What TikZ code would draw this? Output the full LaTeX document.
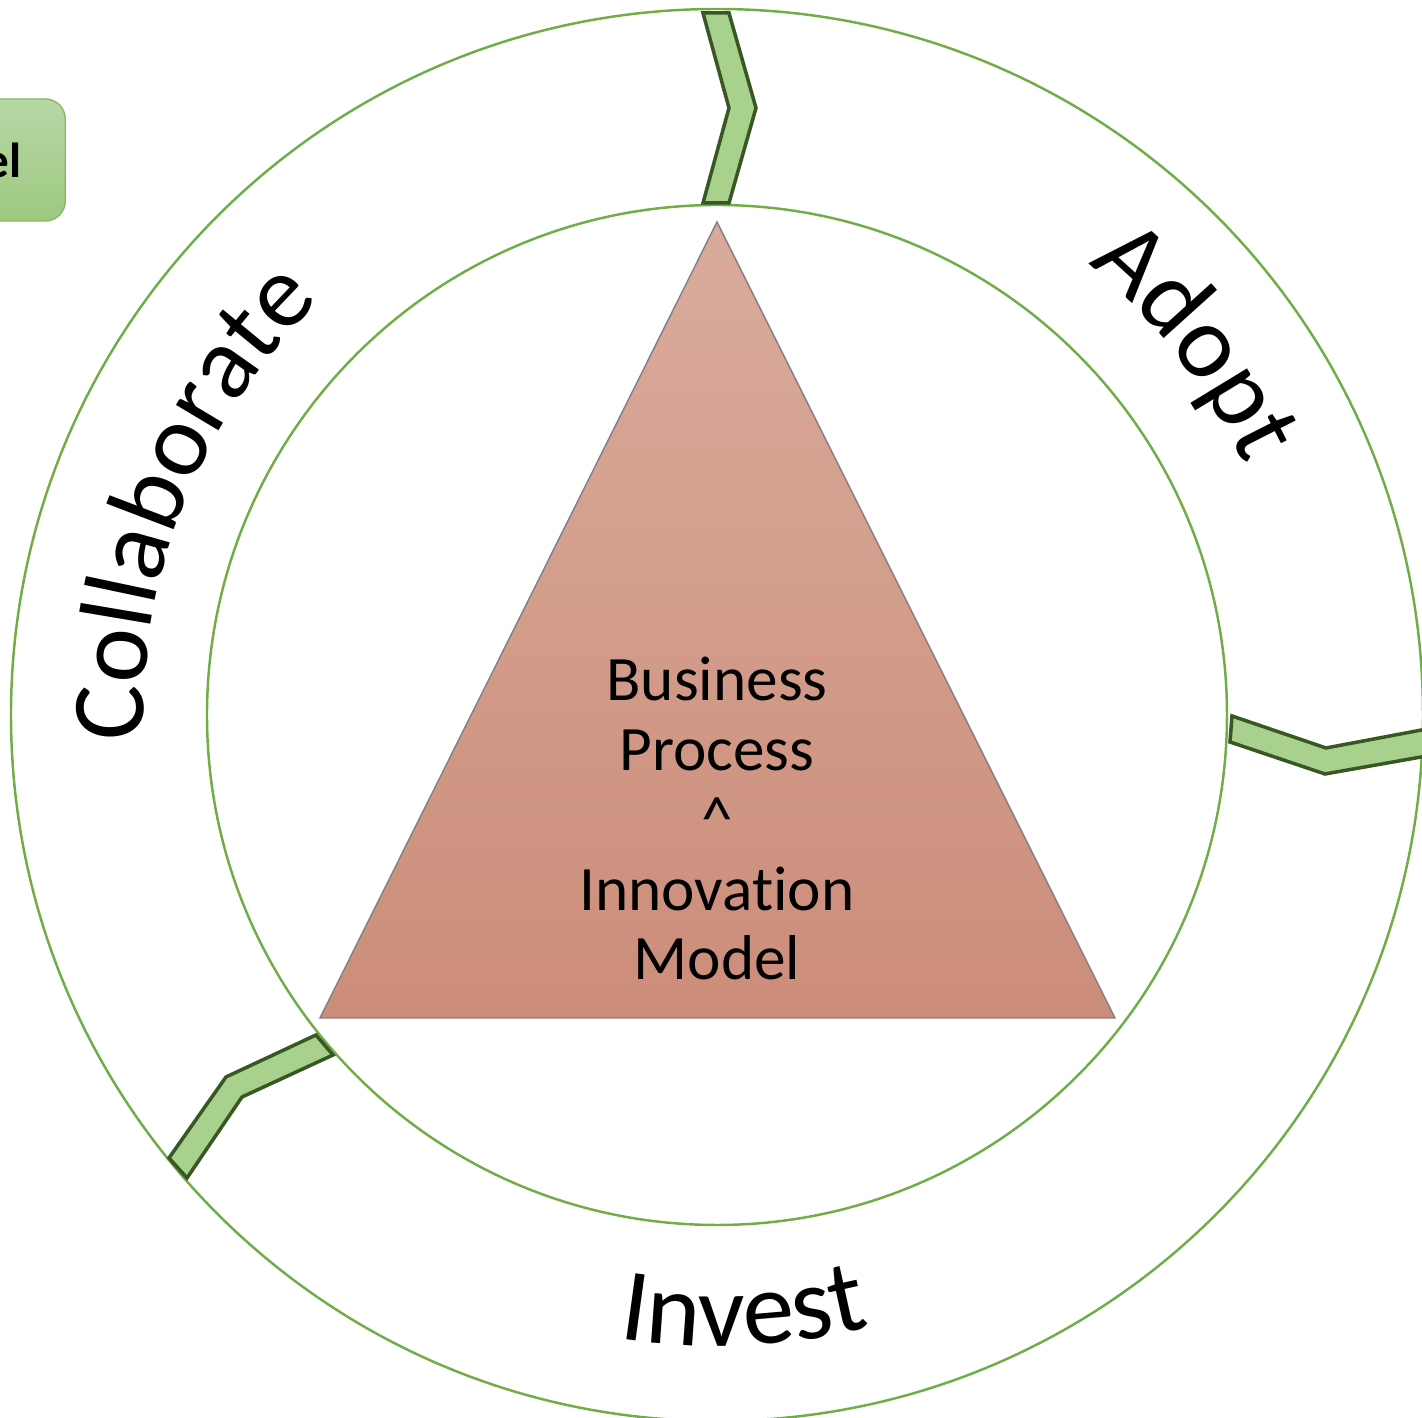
\documentclass[tikz,border=0pt]{standalone}
\usepackage{fontspec}
\setmainfont{Carlito}[Ligatures=NoCommon]
\usepackage{tikz}
\usetikzlibrary{decorations.text}

\definecolor{ringgreen}{HTML}{70AD47}
\definecolor{linkfill}{HTML}{A9D18E}
\definecolor{linkdraw}{HTML}{385723}
\definecolor{tritop}{RGB}{217,171,156}
\definecolor{tribot}{RGB}{204,141,122}
\definecolor{tagtop}{RGB}{183,215,166}
\definecolor{tagbot}{RGB}{157,201,128}

\newcommand{\ringfont}{\fontsize{29.5}{35}\selectfont}
\newcommand{\corefont}{\fontsize{18}{19.9}\selectfont}

\begin{document}
\begin{tikzpicture}
    % Define styles for rings, links and the tag box
    \tikzstyle{ring} = [draw=ringgreen, line width=0.7pt]
    \tikzstyle{link} = [fill=linkfill, draw=linkdraw, line width=1pt]
    \tikzstyle{tagbox} = [draw=ringgreen!85, rounded corners=0.2cm, top color=tagtop, bottom color=tagbot,
        text width=1.5cm, align=right, inner xsep=0.44cm, minimum height=1.22cm,
        font=\bfseries\fontsize{14}{16}\selectfont]
    \useasboundingbox (-7.17,-7.03) rectangle (7.05,7.15);

    % Rings
    \draw[ring] (0,0) circle (7.06);
    \draw[ring] (0,0) circle (5.10);

    % Links between the rings
    \draw[link] (-0.14,7.02) -- (0.12,7.02) -- (0.39,6.07) -- (0.12,5.12) -- (-0.14,5.12) -- (0.12,6.07) -- cycle;
    \draw[link] (5.15,-0.01) -- (6.09,-0.33) -- (7.10,-0.14) -- (7.10,-0.41) -- (6.08,-0.59) -- (5.13,-0.27) -- cycle;
    \draw[link] (-4.01,-3.20) -- (-3.84,-3.40) -- (-4.75,-3.82) -- (-5.30,-4.63) -- (-5.48,-4.43) -- (-4.91,-3.62) -- cycle;

    % Triangle in the middle
    \shadedraw[top color=tritop, bottom color=tribot, draw=black!50, line width=0.4pt]
        (0,4.93) -- (3.98,-3.03) -- (-3.97,-3.03) -- cycle;
    \node[anchor=north, align=center, inner sep=0pt, font=\corefont] (core) at (0,0.59)
        {Business\\Process\\\textasciicircum\\Innovation\\Model};

    % Labels along the ring
    \path[decorate, decoration={text along path, text={|\ringfont|Collaborate}}]
        (182.6:5.73) arc[start angle=182.6, end angle=100, radius=5.73];
    \path[decorate, decoration={text along path, text={|\ringfont|Adopt}}]
        (50.6:5.84) arc[start angle=50.6, end angle=-10, radius=5.84];
    \path[decorate, decoration={text along path, text={|\ringfont|Invest}}]
        (-99:6.31) arc[start angle=-99, end angle=-60, radius=6.31];

    % Tag box, cut by the left edge
    \node[tagbox, anchor=east] (tag) at (-6.51,5.55) {el};
\end{tikzpicture}
\end{document}
